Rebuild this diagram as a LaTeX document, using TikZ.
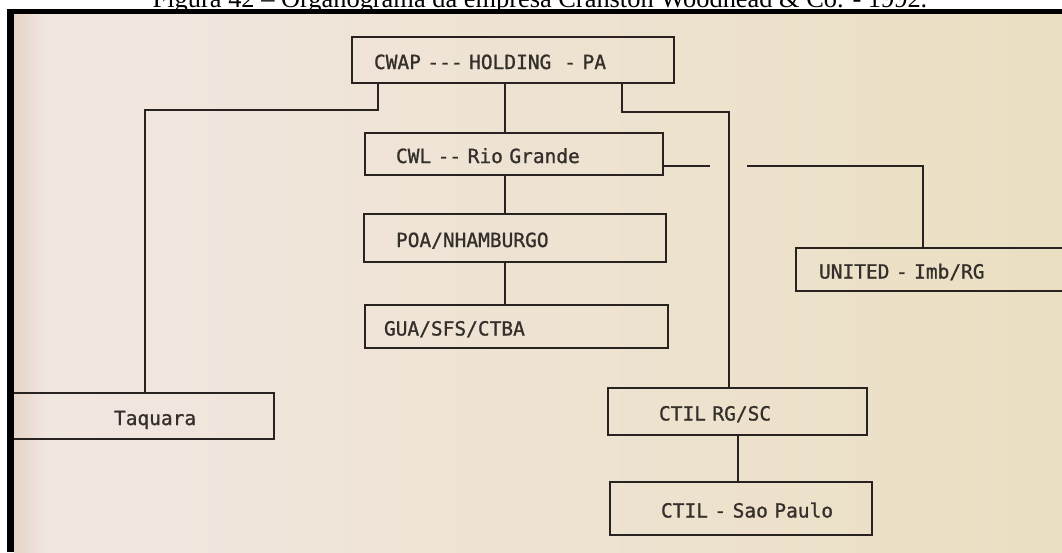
\documentclass[tikz,border=0pt]{standalone}
\usepackage{fontspec}
\setmainfont{Liberation Serif}
\newfontfamily\typewriter[FakeBold=1]{DejaVu Sans Mono}
\usetikzlibrary{calc}

\definecolor{ink}{RGB}{40,35,32}
\definecolor{typed}{RGB}{52,47,42}
\definecolor{paperleft}{RGB}{241,231,226}
\definecolor{paperright}{RGB}{235,223,194}
\definecolor{paperedge}{RGB}{230,212,198}

\begin{document}
\begin{tikzpicture}[x=1pt,y=-1pt,
		orgbox/.style={draw=ink, line width=2pt, anchor=north west, inner xsep=0pt, inner ysep=0pt,
			align=left, text=typed, font={\typewriter\fontsize{19.5}{22}\selectfont},
			text height=18pt, text depth=0pt},
		wire/.style={draw=ink, line width=2pt}]
				\useasboundingbox (0,0) rectangle (1062,552);
				\clip (0,0) rectangle (1062,552);
				\fill[white] (0,0) rectangle (1062,552);
				\begin{scope}
				\clip (14,14) rectangle (1062,552);
				% photo of the page
				\shade[left color=paperleft, right color=paperright] (14,14) rectangle (1062,552);
				\shade[left color=paperedge, right color=paperleft] (14,14) rectangle (46,552);
				% boxes
				\node[orgbox, text width=322pt, minimum height=46pt] (cwap) at (351,36) {\hspace*{22pt}CWAP -{}-{}- HOLDING\ \ - PA};
				\node[orgbox, text width=298pt, minimum height=42pt] (cwl) at (364,132) {\hspace*{31pt}CWL -{}- Rio Grande};
				\node[orgbox, text width=302pt, minimum height=48pt] (poa) at (363,213) {\hspace*{32pt}POA/NHAMBURGO};
				\node[orgbox, text width=303pt, minimum height=43pt] (gua) at (364,304) {\hspace*{19pt}GUA/SFS/CTBA};
				\node[orgbox, text width=293pt, minimum height=46pt] (taquara) at (-20,392) {\hspace*{133pt}Taquara};
				\node[orgbox, text width=300pt, minimum height=43pt] (united) at (795,247) {\hspace*{23pt}UNITED - Imb/RG};
				\node[orgbox, text width=259pt, minimum height=47pt] (ctilrg) at (607,387) {\hspace*{51pt}CTIL RG/SC};
				\node[orgbox, text width=262pt, minimum height=53pt] (ctilsp) at (609,481) {\hspace*{51pt}CTIL - Sao Paulo};
				% connectors
				\coordinate (lcorner) at (378,110);
				\coordinate (ldrop) at (145,110);
				\coordinate (rcorner) at (622,112);
				\coordinate (rdrop) at (729,112);
				\coordinate (spine) at (505,0);
				\coordinate (gapin) at (710,166);
				\coordinate (gapout) at (747,166);
				\coordinate (uturn) at (923,166);
				\draw[wire] (cwap.south -| lcorner) -- (lcorner) -- (ldrop) -- (ldrop |- taquara.north);
				\draw[wire] (cwap.south -| rcorner) -- (rcorner) -- (rdrop) -- (rdrop |- ctilrg.north);
				\draw[wire] (cwap.south -| spine) -- (cwl.north -| spine);
				\draw[wire] (cwl.south -| spine) -- (poa.north -| spine);
				\draw[wire] (poa.south -| spine) -- (gua.north -| spine);
				\draw[wire] (cwl.east |- gapin) -- (gapin);
				\draw[wire] (gapout) -- (uturn) -- (uturn |- united.north);
				\draw[wire] (ctilrg.south) -- (ctilrg.south |- ctilsp.north);
				\end{scope}
				% black frame and caption
				\fill[black] (7,9) rectangle (1062,14);
				\fill[black] (7,9) rectangle (14,552);
				\node[anchor=base, font={\fontsize{26.4}{30}\selectfont}] (caption) at (540,7) {Figura 42 – Organograma da empresa Cranston Woodhead \& Co. - 1992.};
			\end{tikzpicture}
\end{document}
